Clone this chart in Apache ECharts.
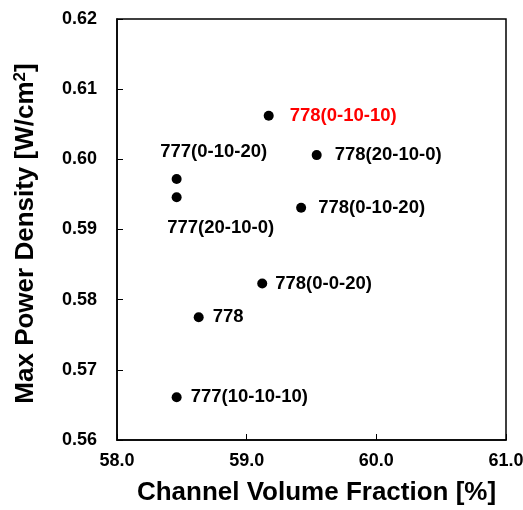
<!DOCTYPE html>
<html>
<head>
<meta charset="utf-8">
<script src="https://cdn.jsdelivr.net/npm/echarts@6/dist/echarts.min.js"></script>
<style>html,body{margin:0;padding:0;background:#fff;}#c{width:523px;height:510px;}</style>
</head>
<body>
<div id="c"></div>
<script>
const names = ['778(0-10-10)','778(20-10-0)','777(0-10-20)','777(20-10-0)','778(0-10-20)','778(0-0-20)','778','777(10-10-10)'];
const xValues = [59.17, 59.54, 58.46, 58.46, 59.42, 59.12, 58.63, 58.46];
const yValues = [0.6062, 0.6006, 0.5972, 0.5946, 0.5931, 0.5823, 0.5775, 0.5661];
const xTicks = [58.0, 59.0, 60.0, 61.0];
const yTicks = [0.56, 0.57, 0.58, 0.59, 0.60, 0.61, 0.62];

// label placement (style only)
const labelStyle = [
  {position:'right', distance:16, color:'#ff0000'},
  {position:'right', distance:13},
  {position:'inside', offset:[37,-27]},
  {position:'inside', offset:[44,31]},
  {position:'right', distance:12},
  {position:'right', distance:8},
  {position:'right', distance:9},
  {position:'right', distance:9}
];

const font = '"Liberation Sans", Arial, sans-serif';
const data = names.map((n,i)=>({
  name:n,
  value:[xValues[i], yValues[i]],
  label:Object.assign({show:true, formatter:n, color:'#000', fontSize:18.5, fontWeight:'bold', fontFamily:font}, labelStyle[i])
}));

const chart = echarts.init(document.getElementById('c'), null, {renderer:'canvas'});
chart.setOption({
  animation:false,
  backgroundColor:'#fff',
  grid:{left:117, right:17, top:19, bottom:70, containLabel:false, outerBoundsMode:'none',
    show:true, borderColor:'#000', borderWidth:1.5, backgroundColor:'transparent'},
  xAxis:{
    type:'value', min:xTicks[0], max:xTicks[xTicks.length-1], interval:1,
    name:'Channel Volume Fraction [%]', nameLocation:'middle', nameGap:40,
    nameTextStyle:{fontSize:26, fontWeight:'bold', color:'#000', fontFamily:font, padding:[0,0,0,10]},
    axisLine:{show:true, lineStyle:{color:'#000', width:1.5}},
    axisTick:{show:true, inside:true, length:6, lineStyle:{color:'#000', width:1}},
    axisLabel:{fontSize:18, fontWeight:'bold', color:'#000', fontFamily:font, margin:12,
      formatter:v=>v.toFixed(1)},
    splitLine:{show:false}
  },
  yAxis:{
    type:'value', min:yTicks[0], max:yTicks[yTicks.length-1], interval:0.01,
    name:'Max Power Density [W/cm{sup|2}]', nameLocation:'middle', nameGap:78,
    nameTextStyle:{fontSize:26, fontWeight:'bold', color:'#000', fontFamily:font, padding:[0,8,0,0],
      rich:{sup:{fontSize:17, fontWeight:'bold', color:'#000', fontFamily:font, verticalAlign:'top', padding:[0,0,10,0]}}},
    axisLine:{show:true, lineStyle:{color:'#000', width:1.5}},
    axisTick:{show:true, inside:true, length:6, lineStyle:{color:'#000', width:1}},
    axisLabel:{fontSize:18, fontWeight:'bold', color:'#000', fontFamily:font, margin:20,
      formatter:v=>v.toFixed(2)},
    splitLine:{show:false}
  },
  series:[{
    type:'scatter',
    symbol:'circle',
    symbolSize:10,
    itemStyle:{color:'#000', opacity:1},
    emphasis:{disabled:true},
    data:data
  }]
});
</script>
</body>
</html>
